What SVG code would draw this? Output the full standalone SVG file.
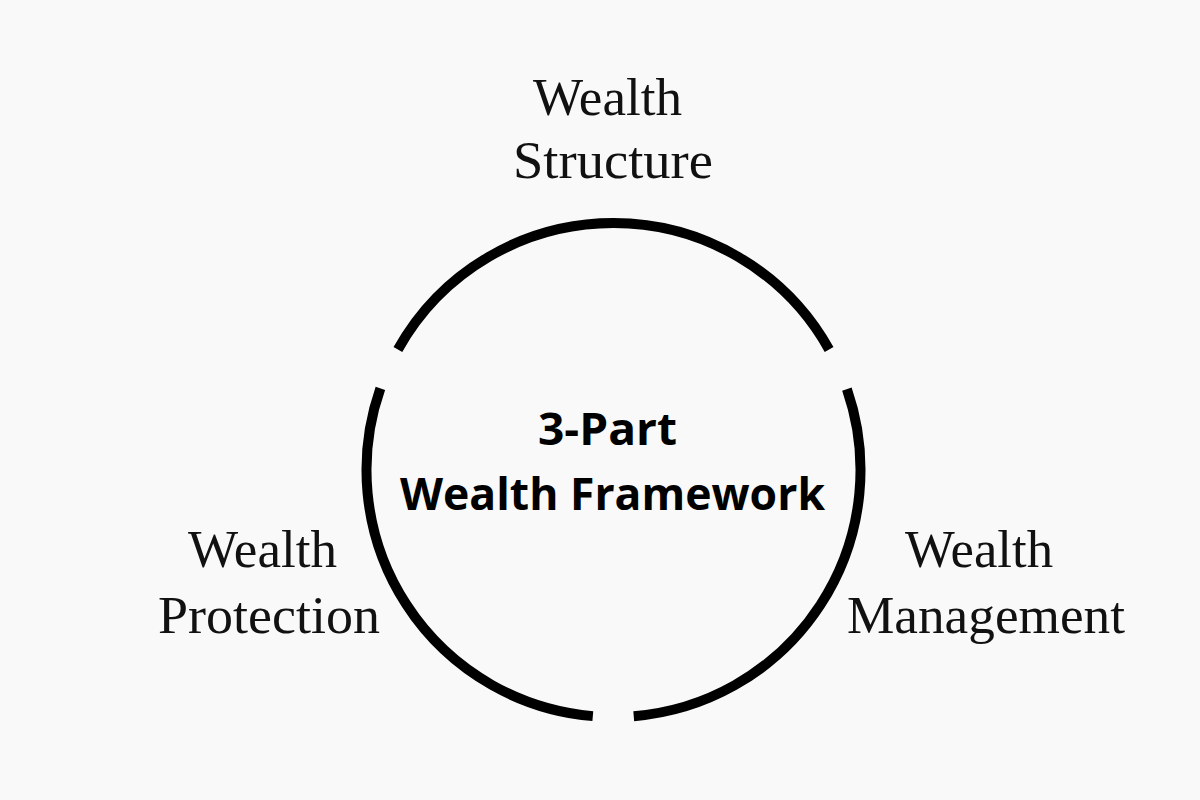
<svg xmlns="http://www.w3.org/2000/svg" width="1200" height="800" viewBox="0 0 1200 800">
<style>
.lbl{font-family:"Liberation Serif","DejaVu Serif",serif;font-size:53px;fill:#111;text-anchor:middle}
.ttl{font-family:"Open Sans","Liberation Sans",sans-serif;font-weight:700;font-size:44px;fill:#000;text-anchor:middle}
.arc{fill:none;stroke:#000;stroke-width:10;stroke-linecap:butt}
</style>
<rect width="1200" height="800" fill="#f9f9f9"/>
<g id="connectors">
<path class="arc" d="M592.83,716.13 A247,247 0 0 1 380.38,388.36"/>
<path class="arc" d="M397.89,349.50 A247,247 0 0 1 829.11,349.50"/>
<path class="arc" d="M846.90,389.18 A247,247 0 0 1 633.74,716.17"/>
</g>
<g id="center">
<text class="ttl" x="607.5" y="445" textLength="139" lengthAdjust="spacingAndGlyphs">3-Part</text>
<text class="ttl" x="612.5" y="510" textLength="425" lengthAdjust="spacingAndGlyphs">Wealth Framework</text>
</g>
<g id="structure">
<text class="lbl" x="607.5" y="115" textLength="149" lengthAdjust="spacingAndGlyphs">Wealth</text>
<text class="lbl" x="613" y="178" textLength="200" lengthAdjust="spacingAndGlyphs">Structure</text>
</g>
<g id="protection">
<text class="lbl" x="262.5" y="567" textLength="149" lengthAdjust="spacingAndGlyphs">Wealth</text>
<text class="lbl" x="269" y="633" textLength="222" lengthAdjust="spacingAndGlyphs">Protection</text>
</g>
<g id="management">
<text class="lbl" x="979" y="567" textLength="148" lengthAdjust="spacingAndGlyphs">Wealth</text>
<text class="lbl" x="986" y="633" textLength="278" lengthAdjust="spacingAndGlyphs">Management</text>
</g>
</svg>
